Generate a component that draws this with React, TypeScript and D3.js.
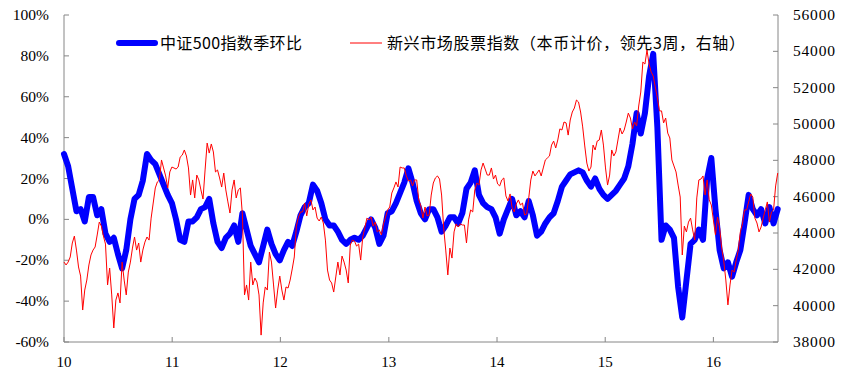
import React from "react";
import * as d3 from "d3";

// 中证500指数季环比 (%), one value every two weeks from 2010-01-01
const csi500QoQ: number[] = [
  32, 26, 15, 4, 5, -1, 11, 11, 2, 5,
  -7, -11, -9, -17, -24, -15, 0, 10, 12, 19,
  32, 29, 27, 22, 17, 12, 8,
  0, -10, -11, -1, -1, 1, 5, 6, 10, -2,
  -11, -14, -9, -7, -3, -11, 3, -5, -13, -17,
  -21, -13, -5, -12, -17, -20,
  -15, -11, -13, -6, 2, 6, 8, 17, 14, 8,
  0, -3, -3, -6, -10, -12, -10, -9, -10, -8,
  -4, 0, -4, -12, -8, 3,
  4, 8, 13, 18, 25, 18, 9, 3, 0, 5,
  5, 1, -6, -3, 1, 1, -2, 3, 15, 18,
  24, 12, 8, 6, 5, 1,
  -7, 0, 5, 10, 2, 4, 1, 9, 2, -8,
  -6, -2, 1, 3, 9, 16, 19, 22, 23, 24,
  23, 19, 16, 20, 15, 12,
  10, 12, 14, 17, 20, 26, 37, 52, 42, 52,
  70, 81, 45, -10, -3, -5, -9, -33, -48, -30,
  -12, -10, -5, -10, 20, 30,
  5, -15, -24, -21, -28, -21, -15, -2, 12, 5,
  2, 5, -2, 6, -2, 5,
];

// 新兴市场股票指数（本币计价，领先3周）, weekly from 2010-01-01
const emIndex: number[] = [
  42400, 42240, 42400, 42680, 43450, 43830, 43060, 42130, 41630, 39760,
  40860, 41410, 42240, 42790, 43060, 43230, 43890, 44600, 44380, 43830,
  43390, 41140, 42070, 40590, 38770, 40310, 40700, 40150, 42400, 41410,
  40590, 41850, 42400, 43170, 43780, 43060, 43450, 42400, 43060, 43500,
  43780, 43610, 44820, 45650, 46480, 46810, 46920, 48020, 47580, 47140,
  46480, 47360, 47630, 47580, 47520, 47630, 48180, 48290, 48570, 48240,
  47580, 46090, 46920, 45930, 47190, 46920, 46370, 45870, 47470, 48950,
  48400, 48900, 48460, 47360, 47470, 47030, 46530, 47300, 46370, 45710,
  45100, 46370, 46920, 45930, 46370, 46480, 44990, 40590, 41140, 40310,
  42400, 41140, 41520, 41300, 40590, 38380, 40150, 41030, 40860, 42950,
  42400, 41140, 39870, 40860, 41630, 40860, 40310, 41030, 40970, 41410,
  42020, 42680, 44380, 44880, 45160, 45160, 45650, 44940, 45600, 45820,
  45270, 45430, 44820, 44660, 44880, 44550, 43610, 41960, 41410, 41250,
  40750, 41580, 42400, 41690, 42730, 42400, 41960, 41250, 43340, 43610,
  43560, 43280, 43390, 42510, 43780, 44280, 44820, 44720, 44880, 44380,
  44600, 44060, 44170, 43890, 44500, 44880, 45270, 45430, 46200, 46480,
  46810, 46530, 47630, 47580, 47580, 47140, 46860, 46920, 46590, 46920,
  46920, 45820, 45490, 44820, 45430, 44940, 44990, 46090, 46750, 47030,
  47140, 46970, 46090, 44280, 43060, 41690, 43170, 42620, 44060, 44500,
  44330, 44500, 44440, 44440, 43450, 44720, 45270, 45160, 46370, 46750,
  46640, 47470, 47850, 47520, 47190, 47190, 47580, 46970, 47190, 46700,
  46590, 46920, 47030, 46040, 45760, 46150, 45380, 45160, 45600, 45820,
  45540, 45650, 44990, 45050, 45930, 46920, 47410, 47140, 47300, 47470,
  47140, 47580, 48020, 48130, 48240, 48840, 49060, 48680, 49120, 49730,
  49670, 50110, 50060, 49390, 50220, 50660, 50880, 51320, 51210, 50660,
  49840, 48790, 47850, 47410, 47630, 48840, 48570, 49060, 49120, 49670,
  48840, 47580, 46640, 47190, 48570, 48240, 48460, 49120, 49780, 49450,
  49670, 50110, 50600, 50330, 49730, 50110, 49890, 50990, 51760, 53410,
  53300, 54070, 53300, 52860, 52640, 52040, 51430, 50720, 50720, 50060,
  50330, 49500, 49230, 48020, 47690, 47360, 46640, 45980, 42790, 44380,
  44060, 44600, 44820, 44170, 43610, 45930, 46920, 46970, 47140, 46090,
  46920, 45820, 45540, 44720, 43890, 44880, 44280, 43170, 42460, 41410,
  40040, 41140, 41960, 41850, 42510, 43060, 44060, 44500, 45270, 45270,
  45710, 46150, 45980, 44820, 44550, 44060, 44330, 44820, 45270, 45710,
  44600, 45160, 45270, 46590, 47300,
];

const leftTicks: number[] = [-60, -40, -20, 0, 20, 40, 60, 80, 100];
const rightTicks: number[] = [38000, 40000, 42000, 44000, 46000, 48000, 50000, 52000, 54000, 56000];
const yearLabels: string[] = ["10", "11", "12", "13", "14", "15", "16"];
const yearStarts: number[] = [2010, 2011, 2012, 2013, 2014, 2015, 2016];

const legendBlue = "中证500指数季环比";
const legendRed = "新兴市场股票指数（本币计价，领先3周，右轴）";

const START = new Date(2010, 0, 1);
const END = new Date(2016, 7, 6);

export default function App() {
  const L = 64, R = 778, T = 15, B = 342;
  const x = d3.scaleTime().domain([START, END]).range([L, R]);
  const yL = d3.scaleLinear().domain([-60, 100]).range([B, T]);
  const yR = d3.scaleLinear().domain([38000, 56000]).range([B, T]);

  const blueLine = d3
    .line<number>()
    .x((_, i) => x(d3.timeDay.offset(START, 14 * i)))
    .y((d) => yL(d));
  const redLine = d3
    .line<number>()
    .x((_, i) => x(d3.timeDay.offset(START, 7 * i)))
    .y((d) => yR(d));

  const axisColor = "#868686";
  const numFont = "Liberation Serif, Times New Roman, DejaVu Serif, serif";
  const cjkFont = "Noto Sans CJK SC, Noto Sans, sans-serif";

  return (
    <svg
      width={858}
      height={375}
      style={{ position: "absolute", left: 0, top: 0, background: "#fff" }}
    >
      <rect x={0} y={0} width={858} height={375} fill="#fff" />
      <line x1={L} y1={T} x2={L} y2={B} stroke={axisColor} strokeWidth={1} />
      <line x1={R} y1={T} x2={R} y2={B} stroke={axisColor} strokeWidth={1} />
      <line x1={L} y1={B} x2={R} y2={B} stroke={axisColor} strokeWidth={1} />
      {leftTicks.map((t) => (
        <g key={"l" + t}>
          <line x1={L} x2={L + 5} y1={yL(t)} y2={yL(t)} stroke={axisColor} />
          <text
            x={49}
            y={yL(t) + 5}
            textAnchor="end"
            fontFamily={numFont}
            fontSize={15.5}
            fill="#000"
          >
            {t + "%"}
          </text>
        </g>
      ))}
      {rightTicks.map((t) => (
        <g key={"r" + t}>
          <line x1={R - 5} x2={R} y1={yR(t)} y2={yR(t)} stroke={axisColor} />
          <text
            x={793}
            y={yR(t) + 5}
            textAnchor="start"
            fontFamily={numFont}
            fontSize={15.5}
            letterSpacing={0.8}
            fill="#000"
          >
            {t}
          </text>
        </g>
      ))}
      {yearStarts.map((yr, i) => {
        const px = x(new Date(yr, 0, 1));
        return (
          <g key={"x" + yr}>
            <line x1={px} x2={px} y1={B} y2={B - 5} stroke={axisColor} />
            <text
              x={px}
              y={367}
              textAnchor="middle"
              fontFamily={numFont}
              fontSize={15}
              fill="#000"
            >
              {yearLabels[i]}
            </text>
          </g>
        );
      })}
      <path
        d={blueLine(csi500QoQ) || ""}
        fill="none"
        stroke="#0000FF"
        strokeWidth={6}
        strokeLinejoin="round"
        strokeLinecap="round"
      />
      <path
        d={redLine(emIndex) || ""}
        fill="none"
        stroke="#FF0000"
        strokeWidth={1}
        strokeLinejoin="round"
      />
      <line x1={119} x2={155} y1={43} y2={43} stroke="#0000FF" strokeWidth={6} strokeLinecap="round" />
      <text
        x={160}
        y={49}
        fontFamily={cjkFont}
        fontSize={16}
        fill="#000"
        textLength={142}
        lengthAdjust="spacing"
      >
        {legendBlue}
      </text>
      <line x1={350} x2={382} y1={43} y2={43} stroke="#FF0000" strokeWidth={1} />
      <text
        x={387}
        y={49}
        fontFamily={cjkFont}
        fontSize={16}
        fill="#000"
        textLength={358}
        lengthAdjust="spacing"
      >
        {legendRed}
      </text>
    </svg>
  );
}
